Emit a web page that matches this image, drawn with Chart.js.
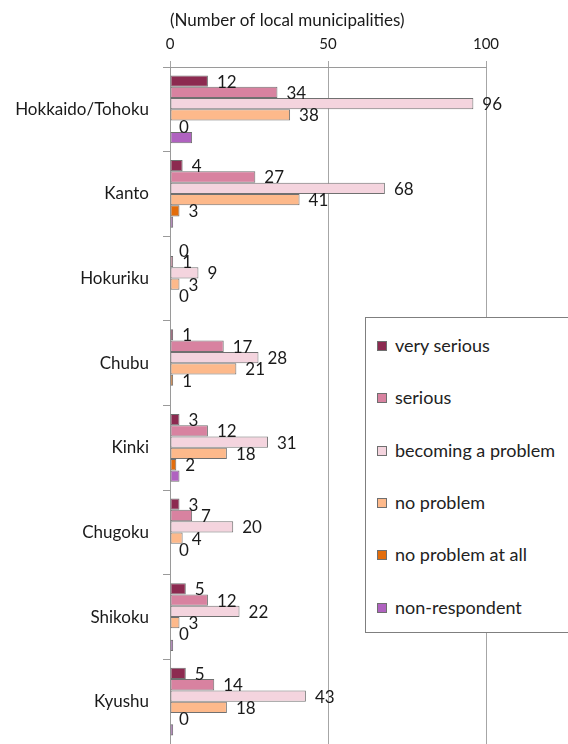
<!DOCTYPE html>
<html>
<head>
<meta charset="utf-8">
<script src="https://cdn.jsdelivr.net/npm/chart.js@4/dist/chart.umd.min.js"></script>
<style>
  html, body { margin: 0; padding: 0; background: #fff; }
  #wrap { position: relative; width: 568px; height: 744px; overflow: hidden; }
  #legend {
    position: absolute; left: 365px; top: 317px; width: 220px; height: 316px;
    border: 1px solid #7f7f7f; background: #fff; box-sizing: border-box;
    font-family: Lato, sans-serif; font-size: 18px; color: #222;
  }
  .item { position: absolute; left: 11px; height: 22px; line-height: 22px; white-space: nowrap; }
  .swatch { display: inline-block; width: 8px; height: 8px; border: 1px solid #6f6f6f; margin-right: 8px; vertical-align: 1px; }
</style>
</head>
<body>
<div id="wrap">
  <canvas id="chart" width="568" height="744"></canvas>
  <div id="legend"></div>
</div>
<script>
// Chart data
const regions = ['Hokkaido/Tohoku', 'Kanto', 'Hokuriku', 'Chubu', 'Kinki', 'Chugoku', 'Shikoku', 'Kyushu'];
const verySerious = [12, 4, 0, 1, 3, 3, 5, 5];
const serious = [34, 27, 1, 17, 12, 7, 12, 14];
const becomingProblem = [96, 68, 9, 28, 31, 20, 22, 43];
const noProblem = [38, 41, 3, 21, 18, 4, 3, 18];
const noProblemAtAll = [0, 3, 0, 1, 2, 0, 0, 0];
const nonRespondent = [7, 1, 0, 0, 3, 0, 1, 1];
const xTicks = [0, 50, 100];

const seriesNames = ['very serious', 'serious', 'becoming a problem', 'no problem', 'no problem at all', 'non-respondent'];
const seriesData = [verySerious, serious, becomingProblem, noProblem, noProblemAtAll, nonRespondent];
const seriesColors = ['#8c2a50', '#d882a0', '#f4d4de', '#fdb98b', '#e36c0b', '#b062c0'];
// only the first five series carry value labels
const labelled = [true, true, true, true, true, false];

const FONT = 'Lato, sans-serif';

const datasets = seriesNames.map((name, i) => ({
    label: name,
    data: seriesData[i],
    backgroundColor: seriesColors[i],
    borderColor: '#707070',
    borderWidth: 1,
    borderSkipped: false,
    barPercentage: 1.0,
    categoryPercentage: 0.8
}));

// value labels at the end of each bar
const valueLabels = {
    id: 'valueLabels',
    afterDatasetsDraw(chart) {
        const ctx = chart.ctx;
        ctx.save();
        ctx.font = '17px ' + FONT;
        ctx.fillStyle = '#1a1a1a';
        ctx.textAlign = 'left';
        ctx.textBaseline = 'middle';
        chart.data.datasets.forEach((ds, i) => {
            if (!labelled[i]) return;
            chart.getDatasetMeta(i).data.forEach((bar, j) => {
                ctx.fillText(String(ds.data[j]), bar.x + 9, bar.y + 1);
            });
        });
        ctx.restore();
    }
};

new Chart(document.getElementById('chart'), {
    type: 'bar',
    data: { labels: regions, datasets: datasets },
    options: {
        indexAxis: 'y',
        responsive: false,
        animation: false,
        layout: { padding: { left: 0, right: 82, top: 0, bottom: 0 } },
        plugins: {
            legend: { display: false },
            tooltip: { enabled: false }
        },
        scales: {
            x: {
                position: 'top',
                min: 0,
                max: 100,
                afterBuildTicks: (scale) => { scale.ticks = xTicks.map(v => ({ value: v })); },
                afterFit: (scale) => { scale.height = 67; },
                border: { color: '#9a9a9a', width: 1 },
                grid: { color: '#a6a6a6', tickLength: 6, lineWidth: 1 },
                ticks: { font: { family: FONT, size: 15 }, color: '#1a1a1a', padding: 8, maxRotation: 0 },
                title: {
                    display: true,
                    text: '(Number of local municipalities)',
                    align: 'start',
                    font: { family: FONT, size: 17 },
                    color: '#1a1a1a',
                    padding: { top: 10, bottom: 0 }
                }
            },
            y: {
                afterFit: (scale) => {
                    scale.width = 170;
                    scale.paddingTop = 0;
                    scale.paddingBottom = 0;
                },
                border: { color: '#9a9a9a', width: 1 },
                grid: { offset: true, drawOnChartArea: false, tickLength: 7, color: '#9a9a9a' },
                ticks: { font: { family: FONT, size: 17 }, color: '#1a1a1a', padding: 14 }
            }
        }
    },
    plugins: [valueLabels]
});

// legend box overlapping the plot
const legend = document.getElementById('legend');
seriesNames.forEach((name, i) => {
    const item = document.createElement('div');
    item.className = 'item';
    item.style.top = (16 + i * 52.3) + 'px';
    item.innerHTML = '<span class="swatch" style="background:' + seriesColors[i] + '"></span>' + name;
    legend.appendChild(item);
});
</script>
</body>
</html>
